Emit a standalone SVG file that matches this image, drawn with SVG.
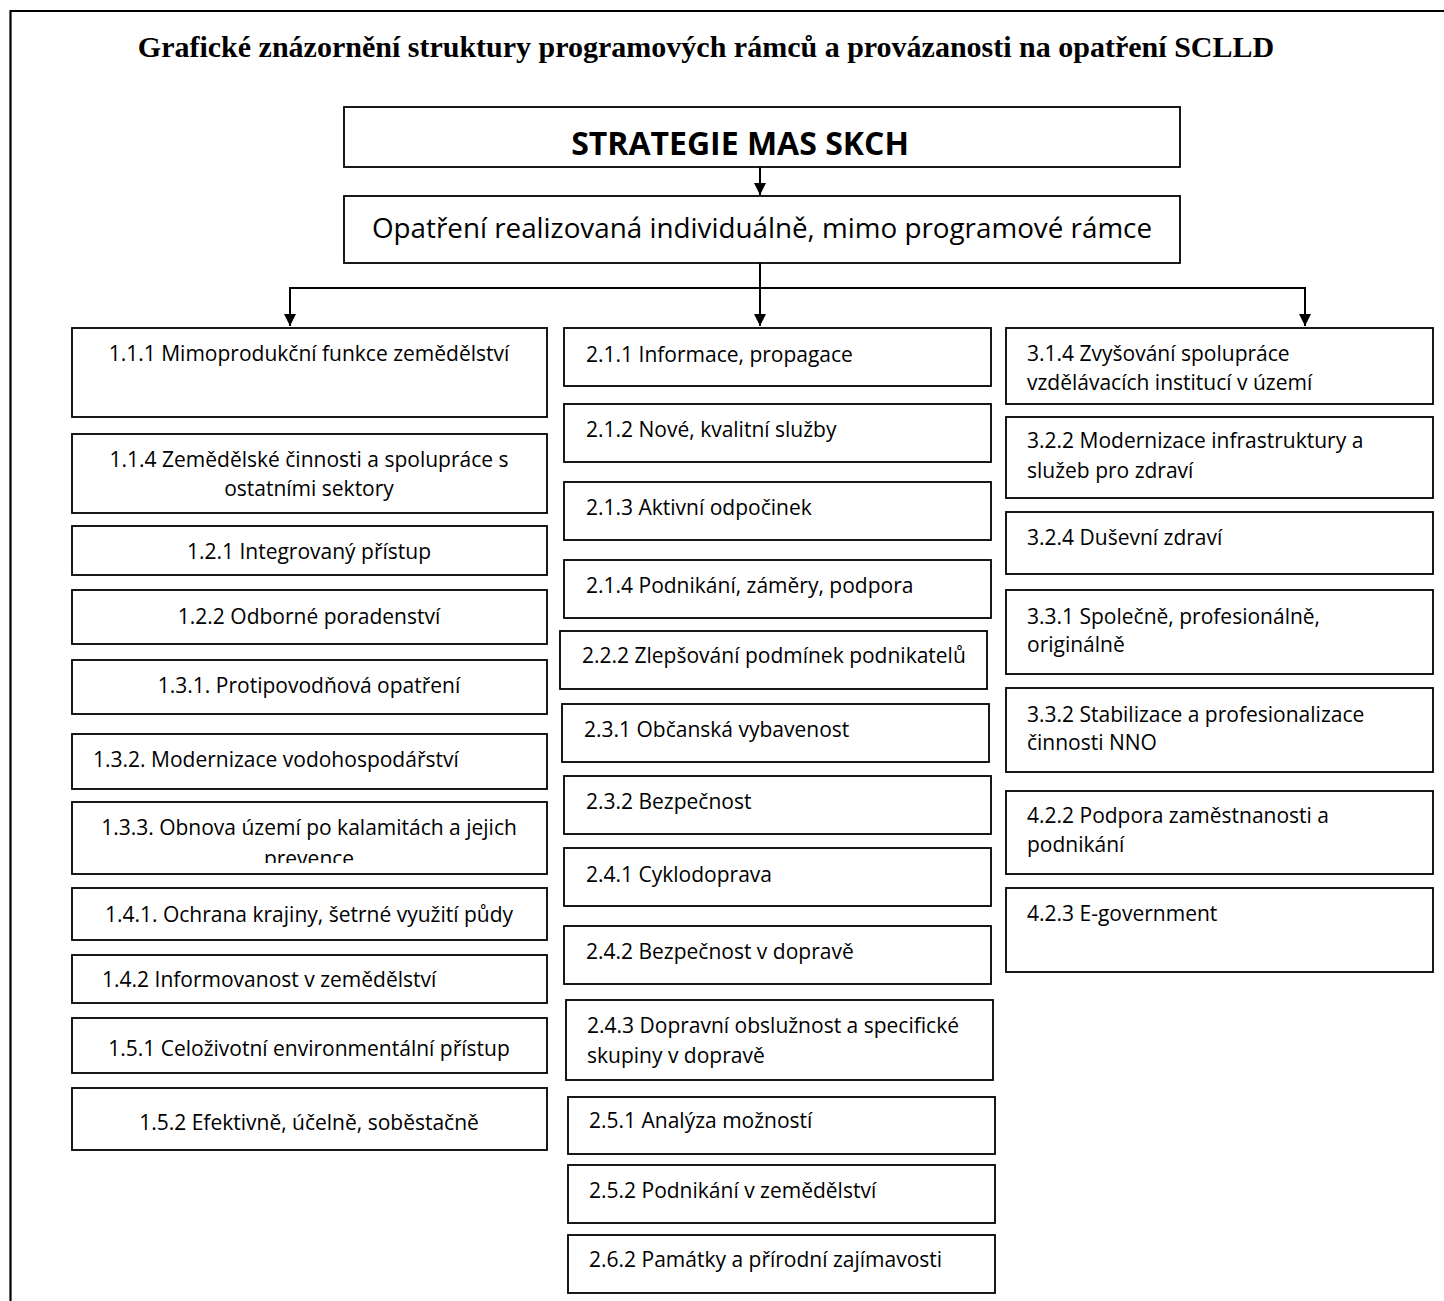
<svg xmlns="http://www.w3.org/2000/svg" width="1444" height="1301" viewBox="0 0 1444 1301">
<style>
.frame{fill:none;stroke:#000;stroke-width:2.2}
.box{fill:#fff;stroke:#000;stroke-width:1.8}
.t{font-family:"Open Sans","Liberation Sans",sans-serif;font-size:21px;fill:#000}
.c{text-anchor:middle}
.title{font-family:"Liberation Serif","Times New Roman",serif;font-weight:bold;font-size:30px;text-anchor:middle;fill:#000}
.head{font-family:"Open Sans","Liberation Sans",sans-serif;font-weight:bold;font-size:32px;text-anchor:middle;fill:#000}
.sub{font-family:"Open Sans","Liberation Sans",sans-serif;font-size:27.8px;text-anchor:middle;fill:#000}
.ln{fill:none;stroke:#000;stroke-width:2}
</style>
<defs>
<marker id="ah" viewBox="0 0 10 10" refX="10" refY="5" markerWidth="6" markerHeight="6" markerUnits="strokeWidth" orient="auto">
<path d="M0,0 L10,5 L0,10 Z" fill="#000"/>
</marker>
<clipPath id="clip133"><rect x="72" y="802" width="475" height="61"/></clipPath>
</defs>
<rect width="1444" height="1301" fill="#fff"/>
<path class="frame" d="M10.5,1301 L10.5,11 L1444,11"/>
<text class="title" x="706" y="57">Grafické znázornění struktury programových rámců a provázanosti na opatření SCLLD</text>

<g id="connectors">
<line class="ln" x1="760" y1="167" x2="760" y2="195" marker-end="url(#ah)"/>
<line class="ln" x1="760" y1="263" x2="760" y2="326" marker-end="url(#ah)"/>
<line class="ln" x1="289" y1="288" x2="1306" y2="288"/>
<line class="ln" x1="290" y1="287" x2="290" y2="326" marker-end="url(#ah)"/>
<line class="ln" x1="1305" y1="287" x2="1305" y2="326" marker-end="url(#ah)"/>
</g>

<g id="strategie"><rect class="box" x="344" y="107" width="836" height="60"/><text class="head" x="740" y="155">STRATEGIE MAS SKCH</text></g>
<g id="opatreni"><rect class="box" x="344" y="196" width="836" height="67"/><text class="sub" x="762" y="238">Opatření realizovaná individuálně, mimo programové rámce</text></g>

<g id="n111"><rect class="box" x="72" y="328" width="475" height="89"/><text class="t c" x="309" y="361">1.1.1 Mimoprodukční funkce zemědělství</text></g>
<g id="n114"><rect class="box" x="72" y="434" width="475" height="79"/><text class="t c" x="309" y="467">1.1.4 Zemědělské činnosti a spolupráce s</text><text class="t c" x="309" y="496">ostatními sektory</text></g>
<g id="n121"><rect class="box" x="72" y="526" width="475" height="49"/><text class="t c" x="309" y="559">1.2.1 Integrovaný přístup</text></g>
<g id="n122"><rect class="box" x="72" y="590" width="475" height="54"/><text class="t c" x="309" y="624">1.2.2 Odborné poradenství</text></g>
<g id="n131"><rect class="box" x="72" y="660" width="475" height="54"/><text class="t c" x="309" y="693">1.3.1. Protipovodňová opatření</text></g>
<g id="n132"><rect class="box" x="72" y="734" width="475" height="55"/><text class="t" x="93" y="767">1.3.2. Modernizace vodohospodářství</text></g>
<g id="n133"><rect class="box" x="72" y="802" width="475" height="72"/><g clip-path="url(#clip133)"><text class="t c" x="309" y="835">1.3.3. Obnova území po kalamitách a jejich</text><text class="t c" x="309" y="866">prevence</text></g></g>
<g id="n141"><rect class="box" x="72" y="888" width="475" height="52"/><text class="t c" x="309" y="922">1.4.1. Ochrana krajiny, šetrné využití půdy</text></g>
<g id="n142"><rect class="box" x="72" y="955" width="475" height="48"/><text class="t" x="102" y="987">1.4.2 Informovanost v zemědělství</text></g>
<g id="n151"><rect class="box" x="72" y="1018" width="475" height="55"/><text class="t c" x="309" y="1056">1.5.1 Celoživotní environmentální přístup</text></g>
<g id="n152"><rect class="box" x="72" y="1088" width="475" height="62"/><text class="t c" x="309" y="1130">1.5.2 Efektivně, účelně, soběstačně</text></g>

<g id="n211"><rect class="box" x="564" y="328" width="427" height="58"/><text class="t" x="586" y="362">2.1.1 Informace, propagace</text></g>
<g id="n212"><rect class="box" x="564" y="404" width="427" height="58"/><text class="t" x="586" y="437">2.1.2 Nové, kvalitní služby</text></g>
<g id="n213"><rect class="box" x="564" y="482" width="427" height="58"/><text class="t" x="586" y="515">2.1.3 Aktivní odpočinek</text></g>
<g id="n214"><rect class="box" x="564" y="560" width="427" height="58"/><text class="t" x="586" y="593">2.1.4 Podnikání, záměry, podpora</text></g>
<g id="n222"><rect class="box" x="560" y="631" width="427" height="58"/><text class="t" x="582" y="663">2.2.2 Zlepšování podmínek podnikatelů</text></g>
<g id="n231"><rect class="box" x="562" y="704" width="427" height="58"/><text class="t" x="584" y="737">2.3.1 Občanská vybavenost</text></g>
<g id="n232"><rect class="box" x="564" y="776" width="427" height="58"/><text class="t" x="586" y="809">2.3.2 Bezpečnost</text></g>
<g id="n241"><rect class="box" x="564" y="848" width="427" height="58"/><text class="t" x="586" y="882">2.4.1 Cyklodoprava</text></g>
<g id="n242"><rect class="box" x="564" y="926" width="427" height="58"/><text class="t" x="586" y="959">2.4.2 Bezpečnost v dopravě</text></g>
<g id="n243"><rect class="box" x="566" y="1000" width="427" height="80"/><text class="t" x="587" y="1033">2.4.3 Dopravní obslužnost a specifické</text><text class="t" x="587" y="1063">skupiny v dopravě</text></g>
<g id="n251"><rect class="box" x="568" y="1097" width="427" height="57"/><text class="t" x="589" y="1128">2.5.1 Analýza možností</text></g>
<g id="n252"><rect class="box" x="568" y="1165" width="427" height="58"/><text class="t" x="589" y="1198">2.5.2 Podnikání v zemědělství</text></g>
<g id="n262"><rect class="box" x="568" y="1235" width="427" height="58"/><text class="t" x="589" y="1267">2.6.2 Památky a přírodní zajímavosti</text></g>

<g id="n314"><rect class="box" x="1006" y="328" width="427" height="76"/><text class="t" x="1027" y="361">3.1.4 Zvyšování spolupráce</text><text class="t" x="1027" y="390">vzdělávacích institucí v území</text></g>
<g id="n322"><rect class="box" x="1006" y="417" width="427" height="81"/><text class="t" x="1027" y="448">3.2.2 Modernizace infrastruktury a</text><text class="t" x="1027" y="478">služeb pro zdraví</text></g>
<g id="n324"><rect class="box" x="1006" y="512" width="427" height="62"/><text class="t" x="1027" y="545">3.2.4 Duševní zdraví</text></g>
<g id="n331"><rect class="box" x="1006" y="590" width="427" height="84"/><text class="t" x="1027" y="624">3.3.1 Společně, profesionálně,</text><text class="t" x="1027" y="652">originálně</text></g>
<g id="n332"><rect class="box" x="1006" y="688" width="427" height="84"/><text class="t" x="1027" y="722">3.3.2 Stabilizace a profesionalizace</text><text class="t" x="1027" y="750">činnosti NNO</text></g>
<g id="n422"><rect class="box" x="1006" y="791" width="427" height="83"/><text class="t" x="1027" y="823">4.2.2 Podpora zaměstnanosti a</text><text class="t" x="1027" y="852">podnikání</text></g>
<g id="n423"><rect class="box" x="1006" y="888" width="427" height="84"/><text class="t" x="1027" y="921">4.2.3 E-government</text></g>
</svg>
